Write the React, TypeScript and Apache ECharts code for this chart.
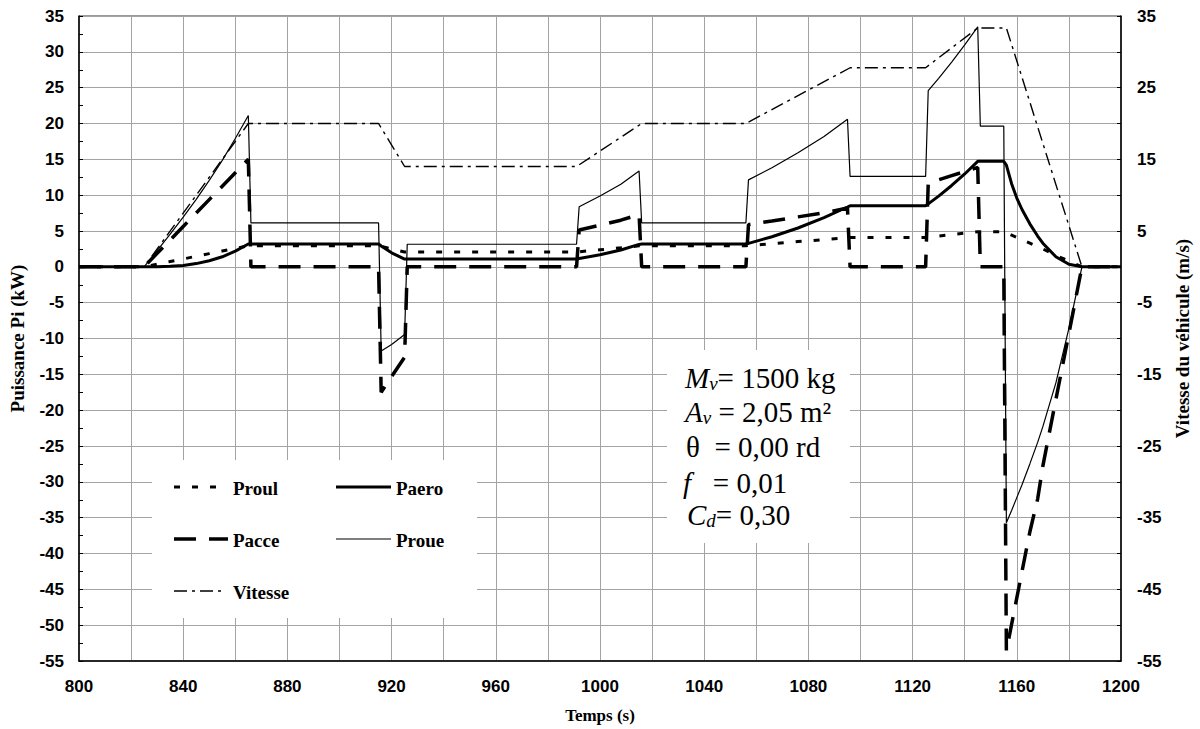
import React, { useEffect, useRef } from 'react';
import * as echarts from 'echarts';

// Time axis (s) shared by the four power series
const TIME = [800, 825, 830, 835, 840, 845, 850, 855, 860, 865, 866, 915, 916, 920, 925, 926, 991, 992, 1000, 1008, 1015, 1016, 1056, 1057, 1066, 1076, 1086, 1095, 1096, 1125, 1126, 1130, 1135, 1140, 1145, 1146, 1155, 1156, 1158, 1160, 1162, 1165, 1168, 1170, 1175, 1180, 1185, 1200];
// Rolling resistance power (kW)
const PROUL = [0, 0, 0.37, 0.74, 1.1, 1.47, 1.84, 2.21, 2.58, 2.94, 2.94, 2.94, 2.85, 2.5, 2.06, 2.06, 2.06, 2.1, 2.38, 2.66, 2.93, 2.94, 2.94, 2.97, 3.23, 3.52, 3.8, 4.06, 4.09, 4.09, 4.13, 4.29, 4.5, 4.7, 4.9, 4.9, 4.9, 4.74, 4.42, 4.1, 3.78, 3.3, 2.82, 2.5, 1.6, 0.8, 0, 0];
// Aerodynamic power (kW)
const PAERO = [0, 0, 0.02, 0.07, 0.2, 0.45, 0.85, 1.4, 2.2, 3.18, 3.18, 3.18, 2.9, 1.95, 1.09, 1.09, 1.09, 1.15, 1.68, 2.35, 3.13, 3.18, 3.18, 3.27, 4.2, 5.42, 6.86, 8.35, 8.52, 8.52, 8.78, 9.87, 11.35, 12.96, 14.72, 14.72, 14.72, 14.2, 11.6, 9.6, 8.0, 6.0, 4.3, 3.3, 1.4, 0.35, 0, 0];
// Acceleration power (kW)
const PACCE = [0, 0, 1.88, 3.75, 5.63, 7.5, 9.38, 11.25, 13.13, 15.0, 0, 0, -17.5, -15.3, -12.6, 0, 0, 5.13, 5.82, 6.51, 7.3, 0, 0, 5.89, 6.4, 6.97, 7.54, 8.2, 0, 0, 11.68, 12.14, 12.72, 13.3, 13.87, 0, 0, -53.6, -49.9, -46.2, -42.5, -37.0, -32.4, -27.8, -18.5, -9.3, 0, 0];
// Wheel power (kW)
const PROUE = [0, 0, 2.27, 4.56, 6.93, 9.42, 12.07, 14.86, 17.91, 21.12, 6.12, 6.12, -11.75, -10.85, -9.45, 3.15, 3.15, 8.38, 9.88, 11.52, 13.36, 6.12, 6.12, 12.13, 13.83, 15.91, 18.2, 20.6, 12.61, 12.61, 24.59, 26.3, 28.57, 30.96, 33.49, 19.62, 19.62, -35.7, -34.0, -32.2, -30.4, -27.5, -24.5, -22.3, -16.2, -8.6, 0, 0];

// Vehicle speed (m/s)
const TIME_V = [800, 825, 865, 915, 925, 991, 1016, 1056, 1096, 1125, 1145, 1156, 1185, 1200];
const VITESSE = [0, 0, 20, 20, 14, 14, 20, 20, 27.78, 27.78, 33.33, 33.33, 0, 0];

const SERIES_NAMES = ['Proul', 'Paero', 'Pacce', 'Proue', 'Vitesse'];

const X_MIN = 800;
const X_MAX = 1200;
const Y_MIN = -55;
const Y_MAX = 35;

const pairs = (xs: number[], ys: number[]) => xs.map((x, i) => [x, ys[i]]);

const GRID_COLOR = '#a3a3a3';
const LABEL_FONT = 'Liberation Sans, Arial, sans-serif';
const SERIF = 'Liberation Serif, Times New Roman, serif';

// line styles, shared by the series and the legend keys
const STYLE_PROUL = { width: 3, dash: [6, 12] as number[] | null };
const STYLE_PAERO = { width: 3, dash: null as number[] | null };
const STYLE_PACCE = { width: 3.5, dash: [22, 13] as number[] | null };
const STYLE_PROUE = { width: 1.2, dash: null as number[] | null };
const STYLE_VITESSE = { width: 1.4, dash: [13, 5, 3, 5] as number[] | null };

export default function App() {
  const ref = useRef<HTMLDivElement>(null);

  useEffect(() => {
    if (!ref.current) return;
    const chart = echarts.init(ref.current, null, { renderer: 'svg' });

    const axisLabel = {
      color: '#000',
      fontFamily: LABEL_FONT,
      fontWeight: 'bold' as const,
      fontSize: 17,
      formatter: (v: number) => String(v),
    };
    const nameStyle = {
      color: '#000',
      fontFamily: SERIF,
      fontWeight: 'bold' as const,
      fontSize: 19,
    };

    const annot = (text: string, x: number, y: number) => ({
      type: 'text',
      x,
      y,
      z: 10,
      style: {
        text,
        fill: '#000',
        fontFamily: SERIF,
        fontSize: 29,
        verticalAlign: 'middle',
        rich: {
          i: { fontFamily: SERIF, fontSize: 29, fontStyle: 'italic', fill: '#000' },
          s: { fontFamily: SERIF, fontSize: 19, fontStyle: 'italic', fill: '#000', verticalAlign: 'bottom' },
          n: { fontFamily: SERIF, fontSize: 29, fill: '#000' },
        },
      },
    });

    const legendKey = (name: string, st: { width: number; dash: number[] | null }, x1: number, x2: number, y: number, tx: number) => [
      {
        type: 'line',
        z: 10,
        shape: { x1, y1: y, x2, y2: y },
        style: { stroke: '#000', lineWidth: st.width, lineDash: st.dash || undefined, lineCap: 'butt' },
      },
      {
        type: 'text',
        z: 10,
        x: tx,
        y: y + 1,
        style: { text: name, fill: '#000', fontFamily: SERIF, fontWeight: 'bold', fontSize: 19, verticalAlign: 'middle' },
      },
    ];

    const seriesLine = (st: { width: number; dash: number[] | null }) => ({
      color: '#000',
      width: st.width,
      type: st.dash ? st.dash : 'solid',
      cap: 'butt',
    });

    const option: any = {
      animation: false,
      backgroundColor: '#fff',
      grid: {
        left: 78,
        right: 77,
        top: 16,
        bottom: 67,
        show: true,
        borderColor: '#333',
        borderWidth: 1,
      },
      xAxis: {
        type: 'value',
        min: X_MIN,
        max: X_MAX,
        interval: 40,
        name: 'Temps (s)',
        nameLocation: 'middle',
        nameGap: 46,
        nameTextStyle: { ...nameStyle, fontSize: 17 },
        axisLine: { show: true, onZero: false, lineStyle: { color: '#000', width: 1.5 } },
        axisTick: { show: false },
        minorTick: { show: false, splitNumber: 2 },
        axisLabel: { ...axisLabel, margin: 17 },
        splitLine: { show: true, lineStyle: { color: GRID_COLOR, width: 1 } },
        minorSplitLine: { show: true, lineStyle: { color: GRID_COLOR, width: 1 } },
      },
      yAxis: [
        {
          type: 'value',
          position: 'left',
          min: Y_MIN,
          max: Y_MAX,
          interval: 5,
          name: 'Puissance Pi (kW)',
          nameLocation: 'middle',
          nameRotate: 90,
          nameGap: 52,
          nameTextStyle: nameStyle,
          axisLine: { show: true, onZero: false, lineStyle: { color: '#000', width: 1.5 } },
          axisTick: { show: true, inside: true, length: 4, lineStyle: { color: '#000' } },
          minorTick: { show: true, splitNumber: 2, length: 4, lineStyle: { color: '#000' } },
          axisLabel: { ...axisLabel, margin: 15 },
          splitLine: { show: true, lineStyle: { color: GRID_COLOR, width: 1 } },
        },
        {
          type: 'value',
          position: 'right',
          min: Y_MIN,
          max: Y_MAX,
          interval: 10,
          name: 'Vitesse du véhicule (m/s)',
          nameLocation: 'middle',
          nameRotate: 90,
          nameGap: 52,
          nameTextStyle: nameStyle,
          axisLine: { show: true, onZero: false, lineStyle: { color: '#000', width: 1.5 } },
          axisTick: { show: true, inside: true, length: 4, lineStyle: { color: '#000' } },
          minorTick: { show: true, splitNumber: 2, length: 4, lineStyle: { color: '#000' } },
          axisLabel: { ...axisLabel, margin: 16 },
          splitLine: { show: false },
        },
      ],
      graphic: [
        { type: 'rect', z: 3, shape: { x: 152, y: 460, width: 325, height: 158 }, style: { fill: '#fff' } },
        { type: 'rect', z: 3, shape: { x: 667, y: 350, width: 183, height: 193 }, style: { fill: '#fff' } },
        ...legendKey(SERIES_NAMES[0], STYLE_PROUL, 174, 221, 487, 233),
        ...legendKey(SERIES_NAMES[2], STYLE_PACCE, 174, 228, 539, 233),
        ...legendKey(SERIES_NAMES[4], STYLE_VITESSE, 174, 223, 591, 233),
        ...legendKey(SERIES_NAMES[1], STYLE_PAERO, 336, 391, 487, 396),
        ...legendKey(SERIES_NAMES[3], STYLE_PROUE, 336, 391, 539, 396),
        annot('{i|M}{s|v}{n|= 1500 kg}', 685, 378),
        annot('{i|A}{s|v}{n| = 2,05 m²}', 685, 412),
        annot('{n|θ  = 0,00 rd}', 686, 447),
        annot('{i|f}{n|   = 0,01}', 683, 483),
        annot('{i|C}{s|d}{n|= 0,30}', 687, 515),
      ],
      series: [
        {
          name: SERIES_NAMES[0],
          type: 'line',
          data: pairs(TIME, PROUL),
          symbol: 'none',
          silent: true,
          z: 4,
          lineStyle: seriesLine(STYLE_PROUL),
        },
        {
          name: SERIES_NAMES[1],
          type: 'line',
          data: pairs(TIME, PAERO),
          symbol: 'none',
          silent: true,
          z: 4,
          lineStyle: seriesLine(STYLE_PAERO),
        },
        {
          name: SERIES_NAMES[2],
          type: 'line',
          data: pairs(TIME, PACCE),
          symbol: 'none',
          silent: true,
          z: 4,
          lineStyle: seriesLine(STYLE_PACCE),
        },
        {
          name: SERIES_NAMES[3],
          type: 'line',
          data: pairs(TIME, PROUE),
          symbol: 'none',
          silent: true,
          z: 4,
          lineStyle: seriesLine(STYLE_PROUE),
        },
        {
          name: SERIES_NAMES[4],
          type: 'line',
          yAxisIndex: 1,
          data: pairs(TIME_V, VITESSE),
          symbol: 'none',
          silent: true,
          z: 4,
          lineStyle: seriesLine(STYLE_VITESSE),
        },
      ],
    };

    chart.setOption(option);
    return () => chart.dispose();
  }, []);

  return (
    <div
      ref={ref}
      style={{ position: 'fixed', left: 0, top: 0, width: 1200, height: 729, background: '#fff' }}
    />
  );
}
